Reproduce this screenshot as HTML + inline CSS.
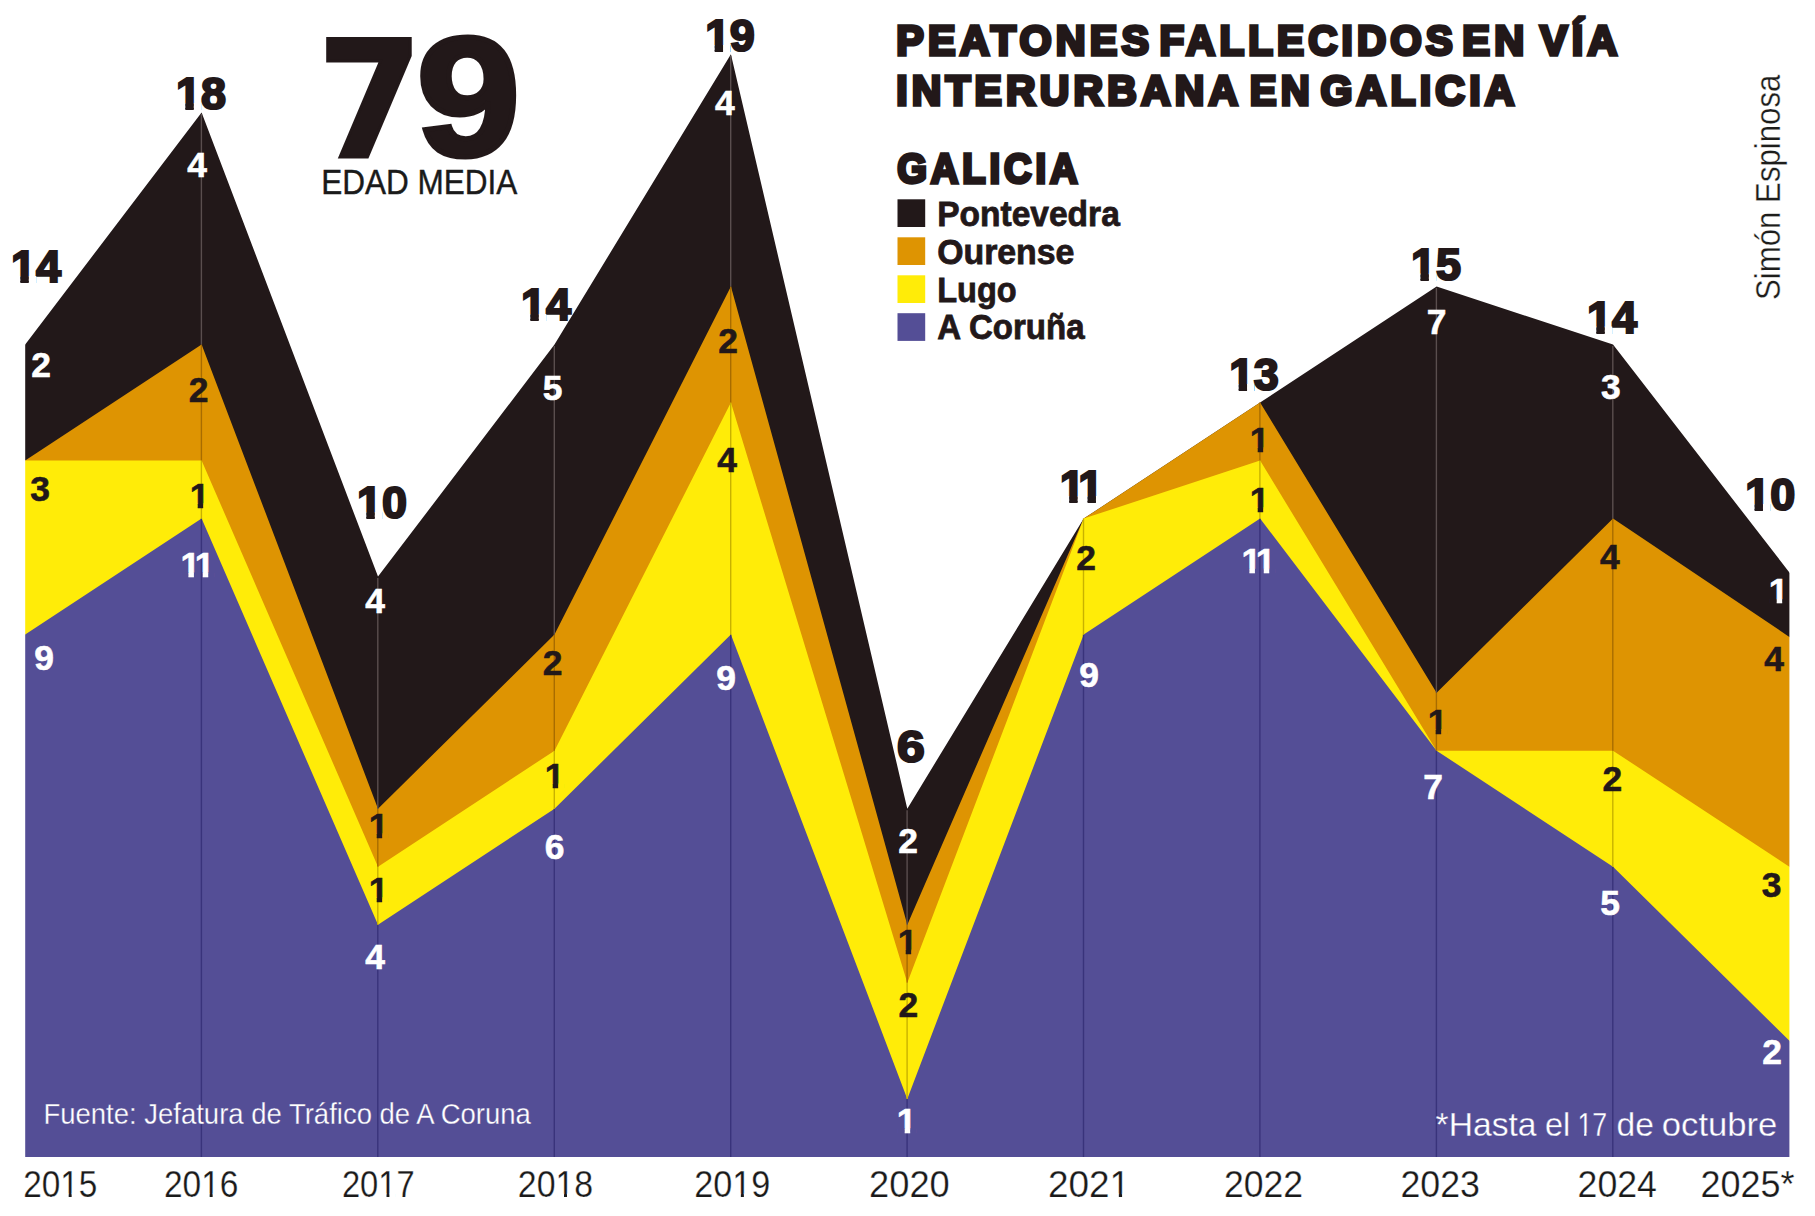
<!DOCTYPE html>
<html lang="es"><head><meta charset="utf-8"><title>Peatones fallecidos en vía interurbana en Galicia</title>
<style>
html,body{margin:0;padding:0;background:#fff}
body{width:1815px;height:1216px;overflow:hidden}
svg{display:block;font-family:"Liberation Sans",sans-serif}
.s{font-weight:bold;font-size:35.4px;text-anchor:middle;stroke-width:.6px}
.w{fill:#fff;stroke:#fff}.k{fill:#221819;stroke:#221819}
.t{font-weight:bold;font-size:45px;text-anchor:middle;fill:#221819;stroke:#221819;stroke-width:2.2px;stroke-linejoin:miter}
.yr{font-size:36.3px;fill:#1a1a1a;stroke:#fff;stroke-width:.25px}
.big{font-weight:bold;fill:#221819;stroke:#221819;stroke-linejoin:miter}
.b7{font-family:"DejaVu Sans","Liberation Sans",sans-serif;font-size:162.4px;stroke-width:3px}
.b9{font-size:168.7px;stroke-width:5px}
.em{font-size:34.4px;fill:#1a1a1a;stroke:#1a1a1a;stroke-width:.4px}
.ti{font-weight:bold;font-size:43px;letter-spacing:4.4px;fill:#221819;stroke:#221819;stroke-width:3.6px;stroke-linejoin:miter}
.lg{font-weight:bold;font-size:34.5px;fill:#221819;stroke:#221819;stroke-width:.8px}
.cr{font-size:34.5px;fill:#1d1d1b;stroke:#fff;stroke-width:.35px}
.ft{fill:#fff;stroke:#544e96;stroke-width:.3px}
</style></head><body>
<svg width="1815" height="1216" viewBox="0 0 1815 1216">
<clipPath id="cp"><rect x="25.20" y="0" width="1764.20" height="1156.90"/></clipPath><g clip-path="url(#cp)" style="opacity:.999">
<polygon fill="#221819" points="21.2,1158.9 21.2,349.7 25.2,344.5 201.6,112.4 378.0,576.6 554.5,344.5 730.9,54.3 907.3,808.7 1083.7,518.6 1260.1,402.5 1436.6,286.5 1613.0,344.5 1789.4,572.5 1793.4,577.7 1793.4,1158.9"/>
<polygon fill="#de9402" points="21.2,1158.9 21.2,463.2 25.2,460.5 201.6,344.5 378.0,808.7 554.5,634.6 730.9,286.5 907.3,924.8 1083.7,518.6 1260.1,402.5 1436.6,692.7 1613.0,518.6 1789.4,636.9 1793.4,639.6 1793.4,1158.9"/>
<polygon fill="#ffec08" points="21.2,1158.9 21.2,460.5 25.2,460.5 201.6,460.5 378.0,866.8 554.5,750.7 730.9,402.5 907.3,982.8 1083.7,518.6 1260.1,460.5 1436.6,750.7 1613.0,750.7 1789.4,866.8 1793.4,869.4 1793.4,1158.9"/>
<polygon fill="#544e96" points="21.2,1158.9 21.2,637.3 25.2,634.6 201.6,518.6 378.0,924.8 554.5,808.7 730.9,634.6 907.3,1098.9 1083.7,634.6 1260.1,518.6 1436.6,750.7 1613.0,866.8 1789.4,1040.8 1793.4,1044.8 1793.4,1158.9"/>
</g>
<line x1="201.4" x2="201.4" y1="518.6" y2="1156.9" stroke="#39337b" stroke-width="1.4"/>
<line x1="201.4" x2="201.4" y1="460.5" y2="518.6" stroke="#c8b200" stroke-width="1.4"/>
<line x1="201.4" x2="201.4" y1="344.5" y2="460.5" stroke="#a86c00" stroke-width="1.4"/>
<line x1="201.4" x2="201.4" y1="113.9" y2="344.5" stroke="#5a4e4e" stroke-width="1.4"/>
<line x1="377.8" x2="377.8" y1="924.8" y2="1156.9" stroke="#39337b" stroke-width="1.4"/>
<line x1="377.8" x2="377.8" y1="866.8" y2="924.8" stroke="#c8b200" stroke-width="1.4"/>
<line x1="377.8" x2="377.8" y1="808.7" y2="866.8" stroke="#a86c00" stroke-width="1.4"/>
<line x1="377.8" x2="377.8" y1="578.1" y2="808.7" stroke="#5a4e4e" stroke-width="1.4"/>
<line x1="554.3" x2="554.3" y1="808.7" y2="1156.9" stroke="#39337b" stroke-width="1.4"/>
<line x1="554.3" x2="554.3" y1="750.7" y2="808.7" stroke="#c8b200" stroke-width="1.4"/>
<line x1="554.3" x2="554.3" y1="634.6" y2="750.7" stroke="#a86c00" stroke-width="1.4"/>
<line x1="554.3" x2="554.3" y1="346.0" y2="634.6" stroke="#5a4e4e" stroke-width="1.4"/>
<line x1="730.7" x2="730.7" y1="634.6" y2="1156.9" stroke="#39337b" stroke-width="1.4"/>
<line x1="730.7" x2="730.7" y1="402.5" y2="634.6" stroke="#c8b200" stroke-width="1.4"/>
<line x1="730.7" x2="730.7" y1="286.5" y2="402.5" stroke="#a86c00" stroke-width="1.4"/>
<line x1="730.7" x2="730.7" y1="55.8" y2="286.5" stroke="#5a4e4e" stroke-width="1.4"/>
<line x1="907.1" x2="907.1" y1="1098.9" y2="1156.9" stroke="#39337b" stroke-width="1.4"/>
<line x1="907.1" x2="907.1" y1="982.8" y2="1098.9" stroke="#c8b200" stroke-width="1.4"/>
<line x1="907.1" x2="907.1" y1="924.8" y2="982.8" stroke="#a86c00" stroke-width="1.4"/>
<line x1="907.1" x2="907.1" y1="810.2" y2="924.8" stroke="#5a4e4e" stroke-width="1.4"/>
<line x1="1083.5" x2="1083.5" y1="634.6" y2="1156.9" stroke="#39337b" stroke-width="1.4"/>
<line x1="1083.5" x2="1083.5" y1="518.6" y2="634.6" stroke="#c8b200" stroke-width="1.4"/>
<line x1="1259.9" x2="1259.9" y1="518.6" y2="1156.9" stroke="#39337b" stroke-width="1.4"/>
<line x1="1259.9" x2="1259.9" y1="460.5" y2="518.6" stroke="#c8b200" stroke-width="1.4"/>
<line x1="1259.9" x2="1259.9" y1="402.5" y2="460.5" stroke="#a86c00" stroke-width="1.4"/>
<line x1="1436.4" x2="1436.4" y1="750.7" y2="1156.9" stroke="#39337b" stroke-width="1.4"/>
<line x1="1436.4" x2="1436.4" y1="692.7" y2="750.7" stroke="#a86c00" stroke-width="1.4"/>
<line x1="1436.4" x2="1436.4" y1="288.0" y2="692.7" stroke="#5a4e4e" stroke-width="1.4"/>
<line x1="1612.8" x2="1612.8" y1="866.8" y2="1156.9" stroke="#39337b" stroke-width="1.4"/>
<line x1="1612.8" x2="1612.8" y1="750.7" y2="866.8" stroke="#c8b200" stroke-width="1.4"/>
<line x1="1612.8" x2="1612.8" y1="518.6" y2="750.7" stroke="#a86c00" stroke-width="1.4"/>
<line x1="1612.8" x2="1612.8" y1="346.0" y2="518.6" stroke="#5a4e4e" stroke-width="1.4"/>
<clipPath id="cn0"><path clip-rule="evenodd" d="M-99,-99H2999V2999H-99ZM11.70,276.11H20.37V284.50H11.70ZM28.75,276.11H36.28V284.50H28.75Z"/></clipPath>
<text id="n0" clip-path="url(#cn0)" x="36.0" y="282.4" class="t">14</text>
<clipPath id="cn1"><path clip-rule="evenodd" d="M-99,-99H2999V2999H-99ZM176.70,103.11H185.37V111.50H176.70ZM193.75,103.11H201.28V111.50H193.75Z"/></clipPath>
<text id="n1" clip-path="url(#cn1)" x="201.0" y="109.4" class="t">18</text>
<clipPath id="cn2"><path clip-rule="evenodd" d="M-99,-99H2999V2999H-99ZM357.70,512.11H366.37V520.50H357.70ZM374.75,512.11H382.28V520.50H374.75Z"/></clipPath>
<text id="n2" clip-path="url(#cn2)" x="382.0" y="518.4" class="t">10</text>
<clipPath id="cn3"><path clip-rule="evenodd" d="M-99,-99H2999V2999H-99ZM521.70,314.11H530.37V322.50H521.70ZM538.75,314.11H546.28V322.50H538.75Z"/></clipPath>
<text id="n3" clip-path="url(#cn3)" x="546.0" y="320.4" class="t">14</text>
<clipPath id="cn4"><path clip-rule="evenodd" d="M-99,-99H2999V2999H-99ZM706.00,45.11H714.67V53.50H706.00ZM723.05,45.11H730.08V53.50H723.05Z"/></clipPath>
<text id="n4" clip-path="url(#cn4)" x="729.8" y="51.4" class="t" style="letter-spacing:-0.5px">19</text>
<text x="911.0" y="762.4" class="t" textLength="27.8" lengthAdjust="spacingAndGlyphs">6</text>
<clipPath id="cn5"><path clip-rule="evenodd" d="M-99,-99H2999V2999H-99ZM1060.55,496.11H1069.22V504.50H1060.55ZM1077.59,496.11H1087.56V504.50H1077.59ZM1095.93,496.11H1104.03V504.50H1095.93Z"/></clipPath>
<text id="n5" clip-path="url(#cn5)" x="1079.4" y="502.4" class="t" style="letter-spacing:-4.2px">11</text>
<clipPath id="cn6"><path clip-rule="evenodd" d="M-99,-99H2999V2999H-99ZM1230.01,384.11H1238.67V392.50H1230.01ZM1247.05,384.11H1253.99V392.50H1247.05Z"/></clipPath>
<text id="n6" clip-path="url(#cn6)" x="1253.7" y="390.4" class="t" style="letter-spacing:-0.6px">13</text>
<clipPath id="cn7"><path clip-rule="evenodd" d="M-99,-99H2999V2999H-99ZM1411.81,273.61H1420.47V282.00H1411.81ZM1428.85,273.61H1436.18V282.00H1428.85Z"/></clipPath>
<text id="n7" clip-path="url(#cn7)" x="1435.9" y="279.9" class="t" style="letter-spacing:-0.2px">15</text>
<clipPath id="cn8"><path clip-rule="evenodd" d="M-99,-99H2999V2999H-99ZM1587.70,326.41H1596.37V334.80H1587.70ZM1604.75,326.41H1612.28V334.80H1604.75Z"/></clipPath>
<text id="n8" clip-path="url(#cn8)" x="1612.0" y="332.7" class="t">14</text>
<clipPath id="cn9"><path clip-rule="evenodd" d="M-99,-99H2999V2999H-99ZM1745.90,504.11H1754.57V512.50H1745.90ZM1762.95,504.11H1770.48V512.50H1762.95Z"/></clipPath>
<text id="n9" clip-path="url(#cn9)" x="1770.2" y="510.4" class="t">10</text>
<text x="41.0" y="377.0" class="s w">2</text>
<text x="40.0" y="501.0" class="s k">3</text>
<text x="44.0" y="670.0" class="s w">9</text>
<text x="197.0" y="177.0" class="s w">4</text>
<text x="198.5" y="402.0" class="s k">2</text>
<clipPath id="cn10"><path clip-rule="evenodd" d="M-99,-99H2999V2999H-99ZM190.69,503.49H197.72V509.30H190.69ZM203.18,503.49H209.76V509.30H203.18Z"/></clipPath>
<text id="n10" clip-path="url(#cn10)" x="199.6" y="508.0" class="s k">1</text>
<clipPath id="cn11"><path clip-rule="evenodd" d="M-99,-99H2999V2999H-99ZM181.42,572.49H188.45V578.30H181.42ZM193.91,572.49H202.78V578.30H193.91ZM208.23,572.49H214.82V578.30H208.23Z"/></clipPath>
<text id="n11" clip-path="url(#cn11)" x="195.8" y="577.0" class="s w" style="letter-spacing:-3.4px">11</text>
<text x="375.0" y="613.2" class="s w">4</text>
<clipPath id="cn12"><path clip-rule="evenodd" d="M-99,-99H2999V2999H-99ZM369.69,833.49H376.72V839.30H369.69ZM382.18,833.49H388.76V839.30H382.18Z"/></clipPath>
<text id="n12" clip-path="url(#cn12)" x="378.6" y="838.0" class="s k">1</text>
<clipPath id="cn13"><path clip-rule="evenodd" d="M-99,-99H2999V2999H-99ZM369.69,897.49H376.72V903.30H369.69ZM382.18,897.49H388.76V903.30H382.18Z"/></clipPath>
<text id="n13" clip-path="url(#cn13)" x="378.6" y="902.0" class="s k">1</text>
<text x="375.0" y="969.0" class="s w">4</text>
<text x="552.6" y="399.8" class="s w">5</text>
<text x="552.6" y="675.0" class="s k">2</text>
<clipPath id="cn14"><path clip-rule="evenodd" d="M-99,-99H2999V2999H-99ZM545.69,783.69H552.72V789.50H545.69ZM558.18,783.69H564.76V789.50H558.18Z"/></clipPath>
<text id="n14" clip-path="url(#cn14)" x="554.6" y="788.2" class="s k">1</text>
<text x="554.5" y="858.7" class="s w">6</text>
<text x="724.8" y="115.3" class="s w">4</text>
<text x="728.0" y="353.0" class="s k">2</text>
<text x="727.0" y="472.0" class="s k">4</text>
<text x="726.2" y="690.0" class="s w">9</text>
<text x="908.0" y="852.8" class="s w">2</text>
<clipPath id="cn15"><path clip-rule="evenodd" d="M-99,-99H2999V2999H-99ZM898.69,949.69H905.72V955.50H898.69ZM911.18,949.69H917.76V955.50H911.18Z"/></clipPath>
<text id="n15" clip-path="url(#cn15)" x="907.6" y="954.2" class="s k">1</text>
<text x="908.4" y="1017.3" class="s k">2</text>
<clipPath id="cn16"><path clip-rule="evenodd" d="M-99,-99H2999V2999H-99ZM897.69,1128.49H904.72V1134.30H897.69ZM910.18,1128.49H916.76V1134.30H910.18Z"/></clipPath>
<text id="n16" clip-path="url(#cn16)" x="906.6" y="1133.0" class="s w">1</text>
<text x="1086.2" y="569.7" class="s k">2</text>
<text x="1089.0" y="687.0" class="s w">9</text>
<clipPath id="cn17"><path clip-rule="evenodd" d="M-99,-99H2999V2999H-99ZM1250.69,447.49H1257.72V453.30H1250.69ZM1263.18,447.49H1269.76V453.30H1263.18Z"/></clipPath>
<text id="n17" clip-path="url(#cn17)" x="1259.6" y="452.0" class="s k">1</text>
<clipPath id="cn18"><path clip-rule="evenodd" d="M-99,-99H2999V2999H-99ZM1250.69,507.49H1257.72V513.30H1250.69ZM1263.18,507.49H1269.76V513.30H1263.18Z"/></clipPath>
<text id="n18" clip-path="url(#cn18)" x="1259.6" y="512.0" class="s k">1</text>
<clipPath id="cn19"><path clip-rule="evenodd" d="M-99,-99H2999V2999H-99ZM1242.42,568.79H1249.45V574.60H1242.42ZM1254.91,568.79H1263.78V574.60H1254.91ZM1269.23,568.79H1275.82V574.60H1269.23Z"/></clipPath>
<text id="n19" clip-path="url(#cn19)" x="1256.8" y="573.3" class="s w" style="letter-spacing:-3.4px">11</text>
<text x="1436.6" y="334.0" class="s w">7</text>
<clipPath id="cn20"><path clip-rule="evenodd" d="M-99,-99H2999V2999H-99ZM1428.69,729.19H1435.72V735.00H1428.69ZM1441.18,729.19H1447.76V735.00H1441.18Z"/></clipPath>
<text id="n20" clip-path="url(#cn20)" x="1437.6" y="733.7" class="s k">1</text>
<text x="1433.0" y="799.0" class="s w">7</text>
<text x="1610.9" y="398.7" class="s w">3</text>
<text x="1609.8" y="569.2" class="s k">4</text>
<text x="1612.3" y="790.8" class="s k">2</text>
<text x="1610.1" y="915.0" class="s w">5</text>
<clipPath id="cn21"><path clip-rule="evenodd" d="M-99,-99H2999V2999H-99ZM1769.69,598.89H1776.72V604.70H1769.69ZM1782.18,598.89H1788.76V604.70H1782.18Z"/></clipPath>
<text id="n21" clip-path="url(#cn21)" x="1778.6" y="603.4" class="s w">1</text>
<text x="1774.0" y="671.0" class="s k">4</text>
<text x="1771.6" y="896.7" class="s k">3</text>
<text x="1772.0" y="1064.4" class="s w">2</text>
<clipPath id="cn22"><path clip-rule="evenodd" d="M-99,-99H2999V2999H-99ZM61.83,1193.39H68.68V1197.70H61.83ZM71.62,1193.39H78.21V1197.70H71.62Z"/></clipPath>
<text id="n22" clip-path="url(#cn22)" x="23.2" y="1196.7" class="yr" textLength="74.2" lengthAdjust="spacingAndGlyphs">2015</text>
<clipPath id="cn23"><path clip-rule="evenodd" d="M-99,-99H2999V2999H-99ZM202.79,1193.39H209.66V1197.70H202.79ZM212.62,1193.39H219.23V1197.70H212.62Z"/></clipPath>
<text id="n23" clip-path="url(#cn23)" x="164.0" y="1196.7" class="yr" textLength="74.5" lengthAdjust="spacingAndGlyphs">2016</text>
<clipPath id="cn24"><path clip-rule="evenodd" d="M-99,-99H2999V2999H-99ZM379.78,1193.39H386.52V1197.70H379.78ZM389.41,1193.39H395.89V1197.70H389.41Z"/></clipPath>
<text id="n24" clip-path="url(#cn24)" x="341.9" y="1196.7" class="yr" textLength="72.8" lengthAdjust="spacingAndGlyphs">2017</text>
<clipPath id="cn25"><path clip-rule="evenodd" d="M-99,-99H2999V2999H-99ZM557.07,1193.39H564.01V1197.70H557.07ZM567.01,1193.39H573.68V1197.70H567.01Z"/></clipPath>
<text id="n25" clip-path="url(#cn25)" x="517.8" y="1196.7" class="yr" textLength="75.4" lengthAdjust="spacingAndGlyphs">2018</text>
<clipPath id="cn26"><path clip-rule="evenodd" d="M-99,-99H2999V2999H-99ZM733.84,1193.39H740.84V1197.70H733.84ZM743.86,1193.39H750.59V1197.70H743.86Z"/></clipPath>
<text id="n26" clip-path="url(#cn26)" x="694.2" y="1196.7" class="yr" textLength="76.1" lengthAdjust="spacingAndGlyphs">2019</text>
<text x="869.1" y="1196.7" class="yr" textLength="80.6" lengthAdjust="spacingAndGlyphs">2020</text>
<clipPath id="cn27"><path clip-rule="evenodd" d="M-99,-99H2999V2999H-99ZM1111.35,1193.39H1118.83V1197.70H1111.35ZM1122.09,1193.39H1129.28V1197.70H1122.09Z"/></clipPath>
<text id="n27" clip-path="url(#cn27)" x="1047.9" y="1196.7" class="yr" textLength="82.2" lengthAdjust="spacingAndGlyphs">2021</text>
<text x="1223.9" y="1196.7" class="yr" textLength="79.2" lengthAdjust="spacingAndGlyphs">2022</text>
<text x="1400.4" y="1196.7" class="yr" textLength="79.5" lengthAdjust="spacingAndGlyphs">2023</text>
<text x="1577.6" y="1196.7" class="yr" textLength="79.3" lengthAdjust="spacingAndGlyphs">2024</text>
<text x="1700.4" y="1196.7" class="yr" textLength="94.0" lengthAdjust="spacingAndGlyphs">2025*</text>
<text class="big"><tspan class="b7" x="317.4" y="156.8" textLength="104.8" lengthAdjust="spacingAndGlyphs">7</tspan><tspan class="b9" x="416.5" y="155.2" textLength="103.8" lengthAdjust="spacingAndGlyphs">9</tspan></text>
<text x="321.2" y="193.9" class="em" textLength="196.2" lengthAdjust="spacingAndGlyphs">EDAD MEDIA</text>
<text y="55.0" class="ti"><tspan x="896.2" textLength="257.1" lengthAdjust="spacingAndGlyphs">PEATONES</tspan> <tspan x="1159.5" textLength="297.4" lengthAdjust="spacingAndGlyphs">FALLECIDOS</tspan> <tspan x="1462.2" textLength="66.2" lengthAdjust="spacingAndGlyphs">EN</tspan> <tspan x="1540.1" textLength="81.4" lengthAdjust="spacingAndGlyphs">VÍA</tspan></text>
<text y="105.0" class="ti"><tspan x="896.2" textLength="344.4" lengthAdjust="spacingAndGlyphs">INTERURBANA</tspan> <tspan x="1249.8" textLength="64.0" lengthAdjust="spacingAndGlyphs">EN</tspan> <tspan x="1320.5" textLength="198.1" lengthAdjust="spacingAndGlyphs">GALICIA</tspan></text>
<text y="183.4" class="ti"><tspan x="897.2" textLength="184.2" lengthAdjust="spacingAndGlyphs">GALICIA</tspan></text>
<rect x="897.5" y="199.3" width="27.7" height="27.7" fill="#221819"/>
<text x="937.2" y="226.1" class="lg" textLength="182.6" lengthAdjust="spacingAndGlyphs">Pontevedra</text>
<rect x="897.5" y="237.3" width="27.7" height="27.7" fill="#de9402"/>
<text x="937.2" y="264.3" class="lg" textLength="137.2" lengthAdjust="spacingAndGlyphs">Ourense</text>
<rect x="897.5" y="275.3" width="27.7" height="27.7" fill="#ffec08"/>
<text x="937.2" y="302.2" class="lg" textLength="79.4" lengthAdjust="spacingAndGlyphs">Lugo</text>
<rect x="897.5" y="313.2" width="27.7" height="27.7" fill="#544e96"/>
<text x="937.2" y="338.6" class="lg" textLength="147.4" lengthAdjust="spacingAndGlyphs">A Coruña</text>
<text transform="translate(1780 300) rotate(-90)" class="cr" textLength="225.4" lengthAdjust="spacingAndGlyphs">Simón Espinosa</text>
<text x="43.4" y="1123.5" class="ft" style="font-size:29.4px" textLength="487.5" lengthAdjust="spacingAndGlyphs">Fuente: Jefatura de Tráfico de A Coruna</text>
<clipPath id="cn28"><path clip-rule="evenodd" d="M-99,-99H2999V2999H-99ZM1578.44,1132.77H1584.12V1136.80H1578.44ZM1586.48,1132.77H1591.95V1136.80H1586.48Z"/></clipPath>
<text id="n28" clip-path="url(#cn28)" y="1135.8" class="ft" style="font-size:32.5px"><tspan x="1435.6" textLength="101.0" lengthAdjust="spacingAndGlyphs">*Hasta</tspan> <tspan x="1545.1" textLength="25.2" lengthAdjust="spacingAndGlyphs">el</tspan> <tspan x="1577.4" textLength="29.7" lengthAdjust="spacingAndGlyphs">17</tspan> <tspan x="1616.5" textLength="37.4" lengthAdjust="spacingAndGlyphs">de</tspan> <tspan x="1661.8" textLength="115.6" lengthAdjust="spacingAndGlyphs">octubre</tspan></text>
</svg>
</body></html>
